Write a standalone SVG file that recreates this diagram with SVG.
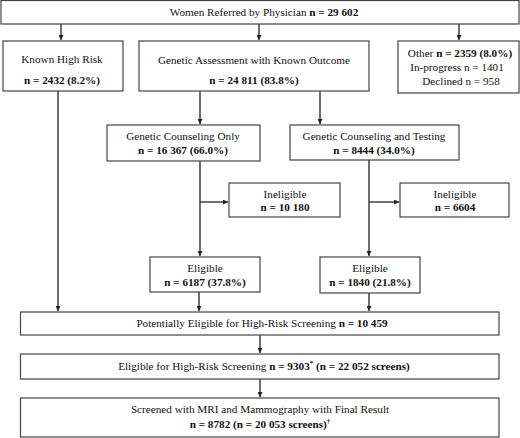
<svg xmlns="http://www.w3.org/2000/svg" width="520" height="438" viewBox="0 0 520 438">
<style>
.box{fill:#fff;stroke:#444;stroke-width:1.2}
text{font-family:'Liberation Serif','DejaVu Serif',serif;font-size:11.2px;fill:#111;text-anchor:middle}
.b{font-weight:bold}
.c{fill:none;stroke:#333;stroke-width:1.4}
</style>
<defs>
<marker id="ah" viewBox="0 0 10 10" refX="10" refY="5" markerWidth="5" markerHeight="5" markerUnits="userSpaceOnUse" orient="auto">
<path d="M0,0 L10,5 L0,10 z" fill="#222"/>
</marker>
</defs>
<rect width="520" height="438" fill="#fff"/>
<g id="connectors">
<path class="c" d="M61,24 V40" marker-end="url(#ah)"/>
<path class="c" d="M259,24 V40" marker-end="url(#ah)"/>
<path class="c" d="M459,24 V40" marker-end="url(#ah)"/>
<path class="c" d="M58,91 V311" marker-end="url(#ah)"/>
<path class="c" d="M200,91 V124" marker-end="url(#ah)"/>
<path class="c" d="M320,91 V124" marker-end="url(#ah)"/>
<path class="c" d="M200,161 V256" marker-end="url(#ah)"/>
<path class="c" d="M200,202 H228" marker-end="url(#ah)"/>
<path class="c" d="M369,160 V256" marker-end="url(#ah)"/>
<path class="c" d="M369,202 H399" marker-end="url(#ah)"/>
<path class="c" d="M199,292 V311" marker-end="url(#ah)"/>
<path class="c" d="M369,293 V311" marker-end="url(#ah)"/>
<path class="c" d="M260,335 V353" marker-end="url(#ah)"/>
<path class="c" d="M260,379 V397" marker-end="url(#ah)"/>
</g>
<g id="top">
<rect class="box" x="1" y="0.5" width="518" height="23.5"/>
<text x="264" y="16">Women Referred by Physician <tspan class="b">n = 29 602</tspan></text>
</g>
<g id="known-high-risk">
<rect class="box" x="3" y="41" width="120" height="50"/>
<text x="62" y="63">Known High Risk</text>
<text class="b" x="62" y="84">n = 2432 (8.2%)</text>
</g>
<g id="genetic-assessment">
<rect class="box" x="139" y="41" width="230" height="50"/>
<text x="254" y="64">Genetic Assessment with Known Outcome</text>
<text class="b" x="254" y="84">n = 24 811 (83.8%)</text>
</g>
<g id="other">
<rect class="box" x="398" y="41" width="121" height="52"/>
<text x="460" y="57">Other <tspan class="b">n = 2359 (8.0%)</tspan></text>
<text x="457" y="71">In-progress n = 1401</text>
<text x="461" y="85">Declined n = 958</text>
</g>
<g id="counseling-only">
<rect class="box" x="107" y="125" width="153" height="36"/>
<text x="183" y="140">Genetic Counseling Only</text>
<text class="b" x="183" y="154">n = 16 367 (66.0%)</text>
</g>
<g id="counseling-testing">
<rect class="box" x="290" y="125" width="169" height="35"/>
<text x="374" y="140">Genetic Counseling and Testing</text>
<text class="b" x="374" y="154">n = 8444 (34.0%)</text>
</g>
<g id="ineligible-1">
<rect class="box" x="229" y="183" width="111" height="34"/>
<text x="285" y="198">Ineligible</text>
<text class="b" x="285" y="211">n = 10 180</text>
</g>
<g id="ineligible-2">
<rect class="box" x="400" y="183" width="109" height="34"/>
<text x="455" y="198">Ineligible</text>
<text class="b" x="455" y="211">n = 6604</text>
</g>
<g id="eligible-1">
<rect class="box" x="150" y="257" width="110" height="35"/>
<text x="205" y="272">Eligible</text>
<text class="b" x="205" y="286">n = 6187 (37.8%)</text>
</g>
<g id="eligible-2">
<rect class="box" x="320" y="257" width="100" height="36"/>
<text x="370" y="272">Eligible</text>
<text class="b" x="370" y="286">n = 1840 (21.8%)</text>
</g>
<g id="potentially-eligible">
<rect class="box" x="20.5" y="312" width="478.5" height="23"/>
<text x="262" y="327">Potentially Eligible for High-Risk Screening <tspan class="b">n = 10 459</tspan></text>
</g>
<g id="eligible-screening">
<rect class="box" x="20.5" y="354" width="478.5" height="25"/>
<text x="264" y="370">Eligible for High-Risk Screening <tspan class="b">n = 9303<tspan font-size="7" dy="-5">*</tspan><tspan dy="5"> (n = 22 052 screens)</tspan></tspan></text>
</g>
<g id="screened">
<rect class="box" x="20.5" y="398" width="478.5" height="39"/>
<text x="260" y="413">Screened with MRI and Mammography with Final Result</text>
<text class="b" x="260" y="428">n = 8782 (n = 20 053 screens)<tspan font-size="7" dy="-5">†</tspan></text>
</g>
</svg>
